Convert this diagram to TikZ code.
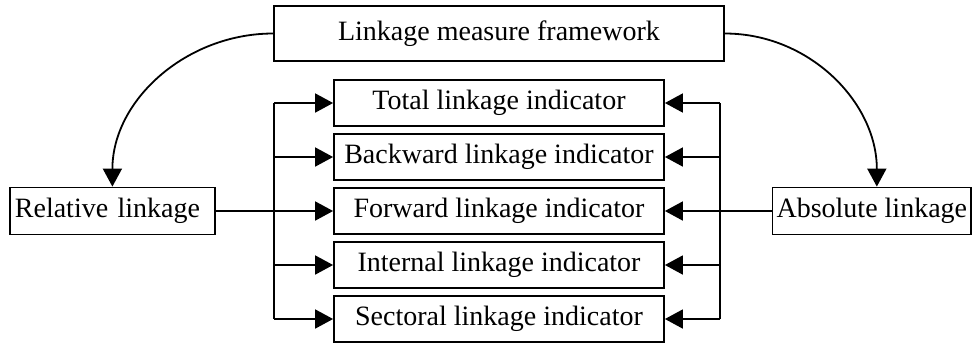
\documentclass[tikz,border=0pt]{standalone}
\usepackage{fontspec}
\setmainfont{Liberation Serif}
\usetikzlibrary{arrows.meta,positioning}

\begin{document}
\begin{tikzpicture}[x=0.5pt,y=-0.5pt,line width=0.9pt,
  box/.style={draw,line width=0.9pt,inner sep=0pt,font=\fontsize{14}{16}\selectfont},
  ind/.style={box,minimum width=165pt,minimum height=23pt},
  tip/.style={-{Triangle[length=9pt,width=9.5pt]}}]
\useasboundingbox (0,0) rectangle (974,345);

\node[box,minimum width=225pt,minimum height=27.5pt] (frame) at (499,33.5) {Linkage measure framework};

\node[ind] (total) at (499,103) {Total linkage indicator};
\node[ind] (back) at (499,157) {Backward linkage indicator};
\node[ind] (fwd) at (499,211) {Forward linkage indicator};
\node[ind] (inter) at (499,265) {Internal linkage indicator};
\node[ind] (sect) at (499,319) {Sectoral linkage indicator};

\node[box,anchor=west,minimum height=23.5pt,inner xsep=2.5pt,text width=97.5pt,align=left] (rel) at (9,211) {Relative linkage};
\node[box,anchor=east,minimum height=23.5pt,inner xsep=2pt] (abs) at (972,211) {Absolute linkage};

\coordinate (lbus) at (274,0);
\coordinate (rbus) at (720,0);

% framework to the two groups
\draw[tip] (frame.west) to[out=180,in=90] (rel.north);
\draw[tip] (frame.east) to[out=0,in=90] ([xshift=2.5pt]abs.north);

% relative side
\draw (rel.east) -- (rel.east -| lbus);
\draw (total.west -| lbus) -- (sect.west -| lbus);
\draw[tip] (total.west -| lbus) -- (total.west);
\draw[tip] (back.west -| lbus) -- (back.west);
\draw[tip] (fwd.west -| lbus) -- (fwd.west);
\draw[tip] (inter.west -| lbus) -- (inter.west);
\draw[tip] (sect.west -| lbus) -- (sect.west);

% absolute side
\draw (abs.west) -- (abs.west -| rbus);
\draw (total.east -| rbus) -- (sect.east -| rbus);
\draw[tip] (total.east -| rbus) -- (total.east);
\draw[tip] (back.east -| rbus) -- (back.east);
\draw[tip] (fwd.east -| rbus) -- (fwd.east);
\draw[tip] (inter.east -| rbus) -- (inter.east);
\draw[tip] (sect.east -| rbus) -- (sect.east);

\end{tikzpicture}
\end{document}
